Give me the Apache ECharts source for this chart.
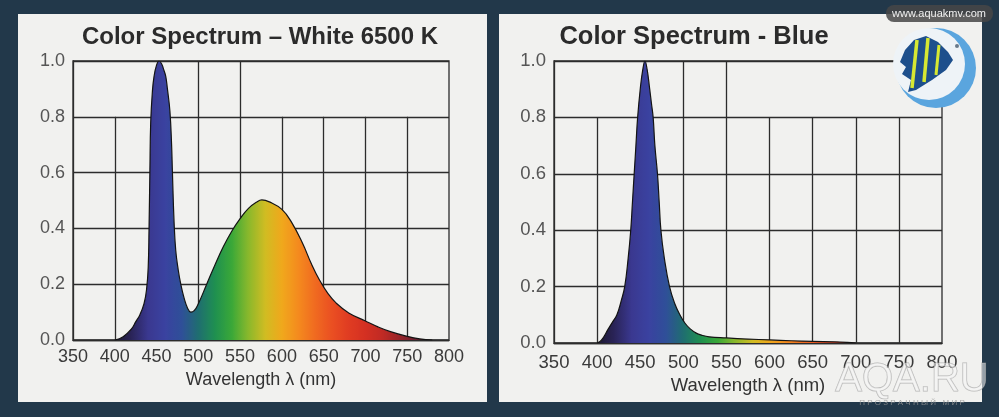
<!DOCTYPE html>
<html><head><meta charset="utf-8">
<script src="https://cdn.jsdelivr.net/npm/echarts@6/dist/echarts.min.js"></script>
<style>
html,body{margin:0;padding:0;width:999px;height:417px;background:#22384a;overflow:hidden}
.panel{position:absolute;background:#f1f1ef}
#chart{position:absolute;left:0;top:0;width:999px;height:417px}
</style></head><body>
<div class="panel" style="left:18px;top:14px;width:469px;height:388px"></div>
<div class="panel" style="left:499px;top:14px;width:483px;height:388px"></div>
<div id="chart"></div>
<script>
// ---- data ----
const xTicks = [350, 400, 450, 500, 550, 600, 650, 700, 750, 800];
const yTicks = [0, 0.2, 0.4, 0.6, 0.8, 1.0];
const shortGridTop = 0.8;            // most vertical grid lines stop at 0.8
const tallGridX = [500, 550];        // these reach 1.0

const titleWhite = 'Color Spectrum – White 6500 K';
const titleBlue = 'Color Spectrum - Blue';
const xName = 'Wavelength λ (nm)';

const whiteWavelength = [400,410,420,425,430,435,438,440,441,442,443,445,447,450,453,456,459,461,463,466,468,469,471,473,476,479,483,487,491,495,500,510,520,530,540,550,560,570,576,585,600,612,625,635,645,655,665,680,700,715,730,750,765,780];
const whiteIntensity  = [0,0.012,0.04,0.065,0.09,0.13,0.18,0.26,0.4,0.6,0.78,0.89,0.945,0.985,1.0,0.99,0.965,0.945,0.9,0.82,0.7,0.6,0.42,0.32,0.25,0.2,0.15,0.115,0.1,0.105,0.13,0.2,0.27,0.335,0.39,0.435,0.472,0.495,0.502,0.495,0.468,0.42,0.345,0.275,0.215,0.167,0.132,0.097,0.068,0.047,0.03,0.013,0.004,0];

const blueWavelength = [400,405,413,418,423,428,432,436,439,441,443,445,447,450,453,455.5,458,461,463,465,467,470,472,474,478,484,490,496,502,508,515,521,530,550,575,600,625,650,675,690,700];
const blueIntensity  = [0,0.01,0.05,0.075,0.1,0.15,0.2,0.3,0.4,0.5,0.6,0.7,0.8,0.9,0.97,1.0,0.97,0.9,0.85,0.8,0.7,0.6,0.5,0.4,0.3,0.2,0.14,0.1,0.07,0.05,0.035,0.028,0.022,0.018,0.014,0.011,0.008,0.006,0.004,0.002,0];

// colours of the spectrum, one per 20 nm from 400 to 780
const spectrumColors = ['#1c1830','#2a2458','#3a3890','#3a42a0','#2f4f98','#1f6e70','#1f9050','#3aa838','#8ab82c','#d0bc22','#f0a81c','#f48a1e','#f06a20','#ea4f22','#e03c22','#d43022','#c02a24','#9a2428','#6a2030','#3a1c28'];
const spectrumMin = 400, spectrumMax = 780;

// ---- build ----
const zip = (a, b) => a.map((v, i) => [v, b[i]]);
const gridLineData = () => xTicks.slice(1, -1).map(x => [
  { coord: [x, 0] },
  { coord: [x, tallGridX.includes(x) ? yTicks[yTicks.length - 1] : shortGridTop] }
]);

const lineCol = '#2c2c2c';
const font = '"Liberation Sans", Arial, sans-serif';

function xAxis(gi, fs, gap, margin) {
  return {
    gridIndex: gi, type: 'value', min: xTicks[0], max: xTicks[xTicks.length - 1], interval: 50,
    axisLine: { show: true, lineStyle: { color: lineCol, width: 1.3 } },
    axisTick: { show: false }, splitLine: { show: false },
    axisLabel: { color: '#3a3a3a', fontSize: fs, fontFamily: font, margin: margin, showMinLabel: true, showMaxLabel: true },
    name: xName, nameLocation: 'middle', nameGap: gap,
    nameTextStyle: { color: '#333', fontSize: fs, fontFamily: font }
  };
}
function yAxis(gi, fs) {
  return {
    gridIndex: gi, type: 'value', min: 0, max: 1, interval: 0.2,
    axisLine: { show: true, lineStyle: { color: lineCol, width: 1.3 } },
    axisTick: { show: false },
    splitLine: { show: true, lineStyle: { color: lineCol, width: 1.3 } },
    axisLabel: { color: '#555', fontSize: fs, fontFamily: font, margin: 8, formatter: v => v.toFixed(1) }
  };
}
function areaSeries(gi, wl, val) {
  return {
    type: 'line', xAxisIndex: gi, yAxisIndex: gi, data: zip(wl, val),
    showSymbol: false, symbol: 'none', smooth: 0.45, z: 3,
    lineStyle: { color: '#141414', width: 1.2, join: 'round' },
    areaStyle: { opacity: 1 },
    markLine: {
      silent: true, symbol: ['none', 'none'], z: 1, animation: false,
      label: { show: false },
      lineStyle: { color: lineCol, width: 1.3, type: 'solid' },
      emphasis: { disabled: true },
      data: gridLineData()
    }
  };
}

const chart = echarts.init(document.getElementById('chart'), null, { renderer: 'canvas' });
chart.setOption({
  animation: false,
  grid: [
    { left: 73, top: 61, width: 376, height: 279, show: true, borderColor: lineCol, borderWidth: 1.3 },
    { left: 554, top: 61, width: 388, height: 282, show: true, borderColor: lineCol, borderWidth: 1.3 }
  ],
  xAxis: [xAxis(0, 18, 31, 8), xAxis(1, 18.5, 31, 10)],
  yAxis: [yAxis(0, 18), yAxis(1, 18.5)],
  visualMap: {
    type: 'continuous', show: false, dimension: 0, seriesIndex: [0, 1],
    min: spectrumMin, max: spectrumMax, inRange: { color: spectrumColors }
  },
  series: [areaSeries(0, whiteWavelength, whiteIntensity), areaSeries(1, blueWavelength, blueIntensity)],
  graphic: [
    { type: 'text', x: 260, y: 37, style: { text: titleWhite, fill: '#2b2b2b', font: 'bold 24px ' + font, textAlign: 'center', textVerticalAlign: 'middle' } },
    { type: 'text', x: 694, y: 37, style: { text: titleBlue, fill: '#2b2b2b', font: 'bold 25.5px ' + font, textAlign: 'center', textVerticalAlign: 'middle' } },
    // logo
    { type: 'circle', z: 10, shape: { cx: 936, cy: 68, r: 40 }, style: { fill: '#5aa5de' } },
    { type: 'circle', z: 11, shape: { cx: 929, cy: 64, r: 36 }, style: { fill: '#eef3f7' } },
    { type: 'polygon', z: 12, shape: { points: [[900,62],[905,50],[914,40],[926,36],[938,42],[948,52],[953,60],[946,70],[932,80],[916,90],[908,92],[911,80],[902,74],[906,67]] }, style: { fill: '#1d4f8c' } },
    { type: 'line', z: 13, shape: { x1: 917, y1: 40, x2: 912, y2: 88 }, style: { stroke: '#d6e832', lineWidth: 3.5 } },
    { type: 'line', z: 13, shape: { x1: 928, y1: 38, x2: 924, y2: 82 }, style: { stroke: '#d6e832', lineWidth: 3.5 } },
    { type: 'line', z: 13, shape: { x1: 939, y1: 45, x2: 936, y2: 75 }, style: { stroke: '#d6e832', lineWidth: 3 } },
    { type: 'circle', z: 13, shape: { cx: 957, cy: 46, r: 2 }, style: { fill: '#6a7a8a' } },
    // site label
    { type: 'rect', z: 14, shape: { x: 886, y: 5, width: 107, height: 17, r: 8 }, style: { fill: 'rgba(70,70,70,0.85)' } },
    { type: 'text', z: 15, x: 939, y: 13.5, style: { text: 'www.aquakmv.com', fill: '#f0f0f0', font: '11px ' + font, textAlign: 'center', textVerticalAlign: 'middle' } },
    // watermark
    { type: 'text', z: 15, x: 912, y: 380, style: { text: 'AQA.RU', fill: 'rgba(245,245,245,0.55)', stroke: 'rgba(140,140,140,0.6)', lineWidth: 1, font: '40px ' + font, textAlign: 'center', textVerticalAlign: 'middle' } },
    { type: 'text', z: 15, x: 912, y: 403, style: { text: 'П Р О З Р А Ч Н Ы Й   М И Р', fill: 'rgba(150,150,150,0.8)', font: '8px ' + font, textAlign: 'center', textVerticalAlign: 'middle' } }
  ]
});
</script>
</body></html>
